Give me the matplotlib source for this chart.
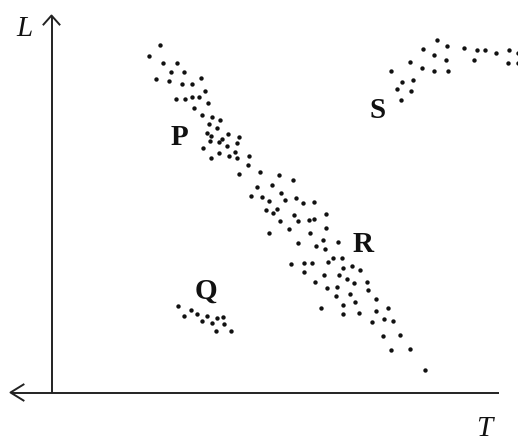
import matplotlib
matplotlib.use("Agg")
import matplotlib.pyplot as plt

# Main sequence band (P at upper left, R at lower right)
ms_x = [160, 149, 162.7, 177.3, 170.7, 184.3, 156, 169.3, 181.7, 191.7, 201, 204.7,
        175.7, 185, 191.7, 199.3, 208, 194.3, 202.3, 212.3, 220, 209.3, 217.3, 206.7,
        211, 228, 221.7, 239.3, 210, 219.3, 237.3, 226.7, 202.7, 235.3, 219.3, 228.7,
        249, 210.7, 236.7, 247.7, 238.7, 259.7, 279.3, 292.7, 257.3, 272, 281, 250.7,
        261.7, 269, 285, 296, 303.3, 314.3, 266, 273.3, 277.3, 293.7, 326.3, 280, 298,
        308.7, 314.3, 289.3, 326.3, 310, 269, 323.3, 337.7, 298, 316.3, 325.3, 333.3,
        328.3, 290.7, 304.3, 312, 342, 304, 343.3, 352.3, 360, 324, 339.3, 346.7, 354.3,
        367.3, 315.3, 327.3, 336.7, 368.3, 350, 336, 375.7, 355.3, 343.3, 320.7, 387.7,
        376.3, 359.3, 343.3, 384.3, 393.3, 371.7, 383.3, 400.3, 391, 410, 425.3]
ms_y = [45, 56, 62.7, 63.3, 71.7, 72.3, 79, 81, 84, 83.7, 78.3, 91,
        99.3, 99.3, 97.3, 97.3, 103.3, 108, 114.7, 117.3, 120, 124.3, 128, 133.3,
        136, 134.3, 139, 137.3, 141, 142.3, 143.3, 146.3, 148.3, 152, 153.3, 156,
        156, 157.7, 158.3, 164.7, 174, 172, 174.7, 179.7, 187, 184.7, 193.3, 196.3,
        197.3, 200.7, 200, 198, 203.3, 202, 210, 213, 209.3, 215, 214.3, 221, 220.7,
        220, 219, 228.7, 227.7, 233, 232.7, 240.3, 241.7, 243.3, 246.3, 249.3, 258,
        262, 263.7, 262.7, 263, 258, 271.7, 267.7, 265.7, 269.7, 275, 275, 279.3, 282.7,
        281.7, 281.7, 287.7, 286.7, 290.3, 294, 296, 299.3, 302.3, 305.3, 307.7, 308,
        311.3, 313, 314.3, 319.3, 321, 322, 336, 335.3, 350, 349.3, 370]

# Group Q (white dwarfs)
q_x = [177.7, 184.3, 191, 196.7, 201.7, 206.7, 212.3, 216.7, 222.7, 224, 216, 230.7]
q_y = [305.7, 315.7, 310, 314, 320.7, 316, 322.7, 317.7, 316.7, 324, 330.7, 330.7]

# Group S (giants)
s_x = [437.3, 422.7, 447.3, 464.3, 476.7, 484.7, 496.3, 509, 518, 434.3, 409.7, 446.3,
       474.3, 391, 422, 434.3, 448.3, 507.7, 517.7, 402.3, 413.3, 396.7, 410.7, 400.7]
s_y = [40, 48.7, 46, 48, 50, 49.7, 53.3, 50, 53.3, 54.7, 62.3, 60,
       60, 71, 68, 71, 71, 63.3, 63, 81.7, 80, 89.3, 90.7, 100.3]

labels = ["P", "Q", "R", "S"]
label_x = [179, 206, 363, 378]
label_y = [145, 299, 252, 118]

fig = plt.figure(figsize=(5.18, 4.41), dpi=100)
ax = fig.add_axes([0, 0, 1, 1])
ax.set_xlim(0, 518)
ax.set_ylim(441, 0)
ax.axis("off")

ox, oy = 51.5, 392.5
# vertical axis (L) with open arrow at top
ax.plot([ox, ox], [oy, 15.5], color="#222222", lw=1.4, solid_capstyle="butt")
ax.plot([ox - 8, ox, ox + 8], [24.5, 15.5, 24.5], color="#222222", lw=1.4)
# horizontal axis (T) with open arrow at left
ax.plot([499, 10.5], [oy, oy], color="#222222", lw=1.4, solid_capstyle="butt")
ax.plot([23.5, 10.5, 23.5], [oy - 8, oy, oy + 8], color="#222222", lw=1.4)

for xs, ys in [(ms_x, ms_y), (q_x, q_y), (s_x, s_y)]:
    ax.scatter(xs, ys, s=10, color="#111111", linewidths=0, clip_on=True)

for t, x, y in zip(labels, label_x, label_y):
    ax.text(x, y, t, fontsize=21, fontweight="bold", family="Liberation Serif",
            ha="center", va="baseline", color="#111111")

ax.text(24, 36, "L", fontsize=21, style="italic", family="Liberation Serif",
        ha="center", va="baseline", color="#111111")
ax.text(484, 436, "T", fontsize=21, style="italic", family="Liberation Serif",
        ha="center", va="baseline", color="#111111")

fig.savefig("out.png", dpi=100)
